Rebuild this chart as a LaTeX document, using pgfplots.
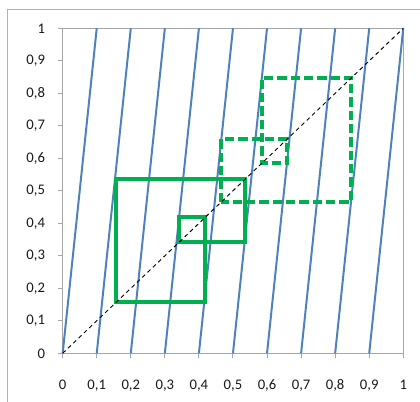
\documentclass[border=0pt]{standalone}
\usepackage{fontspec}
\setmainfont{Carlito}
\usepackage{pgfplots}
\pgfplotsset{compat=1.18}
\definecolor{xlblue}{HTML}{4F81BD}
\definecolor{xlgreen}{HTML}{00B050}
\definecolor{axgray}{HTML}{A6A6A6}
\begin{document}
\begin{tikzpicture}
\path[use as bounding box] (-47pt,-36.5pt) rectangle (268pt,265pt);
\draw[black!30, line width=0.75pt] (-41pt,-37pt) -- (-41pt,257.5pt) -- (269pt,257.5pt);
\begin{axis}[
  at={(0pt,0pt)}, anchor=south west,
  scale only axis, width=255.45pt, height=243.75pt,
  xmin=0, xmax=1, ymin=0, ymax=1,
  clip=false,
  xtick={0,0.1,0.2,0.3,0.4,0.5,0.6,0.7,0.8,0.9,1},
  ytick={0,0.1,0.2,0.3,0.4,0.5,0.6,0.7,0.8,0.9,1},
  xtick pos=bottom, ytick pos=left,
  tick align=outside,
  major tick length=3.75pt,
  axis line style={axgray, line width=0.75pt},
  every tick/.style={axgray, line width=0.75pt},
  /pgf/number format/assume math mode=true,
  /pgf/number format/use comma,
  tick label style={font=\fontsize{11}{13}\selectfont, text=black!90},
  yticklabel style={anchor=east, xshift=-6pt},
  xticklabel style={anchor=north, yshift=-12.5pt},
  unbounded coords=jump,
]
\addplot[xlblue, line width=1.5pt] coordinates {
(0,0) (0.1,1) (0.1,nan)
(0.1,0) (0.2,1) (0.2,nan)
(0.2,0) (0.3,1) (0.3,nan)
(0.3,0) (0.4,1) (0.4,nan)
(0.4,0) (0.5,1) (0.5,nan)
(0.5,0) (0.6,1) (0.6,nan)
(0.6,0) (0.7,1) (0.7,nan)
(0.7,0) (0.8,1) (0.8,nan)
(0.8,0) (0.9,1) (0.9,nan)
(0.9,0) (1,1)
};
\addplot[xlgreen, line width=3pt, line join=miter] coordinates {
(0.157,0.157) (0.157,0.536) (0.536,0.536) (0.536,0.343) (0.343,0.343)
(0.343,0.418) (0.418,0.418) (0.418,0.157) (0.157,0.157)
} -- cycle;
\addplot[xlgreen, line width=3pt, dash pattern=on 7pt off 3pt] coordinates {
(0.466,0.466) (0.466,0.66) (0.66,0.66) (0.66,0.585) (0.585,0.585)
(0.585,0.848) (0.847,0.848) (0.847,0.467) (0.466,0.467)
};
\addplot[black, line width=0.7pt, dash pattern=on 3pt off 2.5pt] coordinates {(0,0) (1,1)};
\end{axis}
\end{tikzpicture}
\end{document}
